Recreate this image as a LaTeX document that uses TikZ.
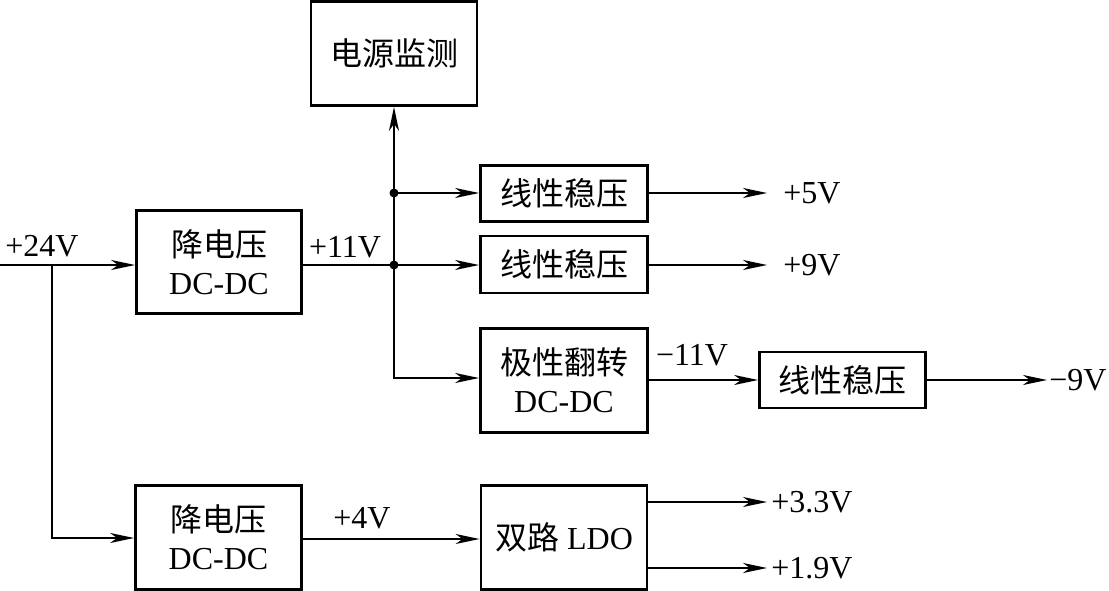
\documentclass[tikz,border=0pt]{standalone}
\usepackage{fontspec}
\setmainfont{Liberation Serif}
\newfontfamily\cjk{Noto Sans CJK SC}
\usetikzlibrary{arrows.meta}
\begin{document}
\begin{tikzpicture}[x=1pt,y=-1pt,
  blk/.style={draw,line width=2.8pt,inner sep=0pt,align=center,font=\fontsize{32}{38}\selectfont},
  conn/.style={line width=1.8pt},
  arr/.style={conn,-{Stealth[length=24pt,width=10pt,inset=7pt]}},
  lbl/.style={inner sep=0pt,font=\fontsize{32}{36}\selectfont},
  dot/.style={circle,fill,inner sep=0pt,minimum size=9pt}]
\useasboundingbox (0,0) rectangle (1109,591);
% blocks
\node[blk,minimum width=166pt,minimum height=104pt] (mon) at (394,53.5) {\cjk 电源监测};
\node[blk,minimum width=167pt,minimum height=56pt] (lin1) at (564,193.5) {\cjk 线性稳压};
\node[blk,minimum width=167pt,minimum height=57pt] (lin2) at (564,264.5) {\cjk 线性稳压};
\node[blk,minimum width=165pt,minimum height=103pt] (buck1) at (219,262) {{\cjk 降电压}\\DC-DC};
\node[blk,minimum width=167pt,minimum height=104pt] (inv) at (564,380.5) {{\cjk 极性翻转}\\DC-DC};
\node[blk,minimum width=166pt,minimum height=56pt] (lin3) at (842.5,380) {\cjk 线性稳压};
\node[blk,minimum width=166pt,minimum height=104pt] (buck2) at (218.5,537.5) {{\cjk 降电压}\\DC-DC};
\node[blk,minimum width=166pt,minimum height=104pt] (ldo) at (564,537.5) {{\cjk 双路} LDO};
% coordinates
\coordinate (in) at (0,265);
\coordinate (br) at (52,265);
\coordinate (br2) at (52,538);
\coordinate (j1) at (394,193);
\coordinate (j2) at (394,265);
\coordinate (j3) at (394,378);
\coordinate (o5) at (767,193);
\coordinate (o9) at (767,265);
\coordinate (on9) at (1047,380);
\coordinate (o33) at (767,502);
\coordinate (o19) at (767,568);
% connectors
\draw[arr] (in) -- (in -| buck1.west);
\draw[arr] (br) -- (br2) -- (br2 -| buck2.west);
\draw[conn] (buck1.east |- j2) -- (j2);
\draw[arr] (j2) -- (j2 -| lin2.west);
\draw[arr] (j1) -- (j1 -| lin1.west);
\draw[conn] (j2) -- (j1);
\draw[arr] (j1) -- (mon.south);
\draw[arr] (j2) -- (j3) -- (j3 -| inv.west);
\draw[arr] (lin1.east |- o5) -- (o5);
\draw[arr] (lin2.east |- o9) -- (o9);
\draw[arr] (inv.east |- lin3.west) -- (lin3.west);
\draw[arr] (lin3.east |- on9) -- (on9);
\draw[arr] (buck2.east |- 0,539) -- (ldo.west |- 0,539);
\draw[arr] (ldo.east |- o33) -- (o33);
\draw[arr] (ldo.east |- o19) -- (o19);
\node[dot] (d1) at (j1) {};
\node[dot] (d2) at (j2) {};
% labels
\node[lbl] (l24) at (42,246) {+24V};
\node[lbl] (l11) at (345,247) {+11V};
\node[lbl] (l5) at (812,193) {+5V};
\node[lbl] (l9) at (812,265) {+9V};
\node[lbl] (ln11) at (692,355) {−11V};
\node[lbl] (ln9) at (1078,380) {−9V};
\node[lbl] (l4) at (362,518) {+4V};
\node[lbl] (l33) at (812,502) {+3.3V};
\node[lbl] (l19) at (812,568) {+1.9V};
\end{tikzpicture}
\end{document}
